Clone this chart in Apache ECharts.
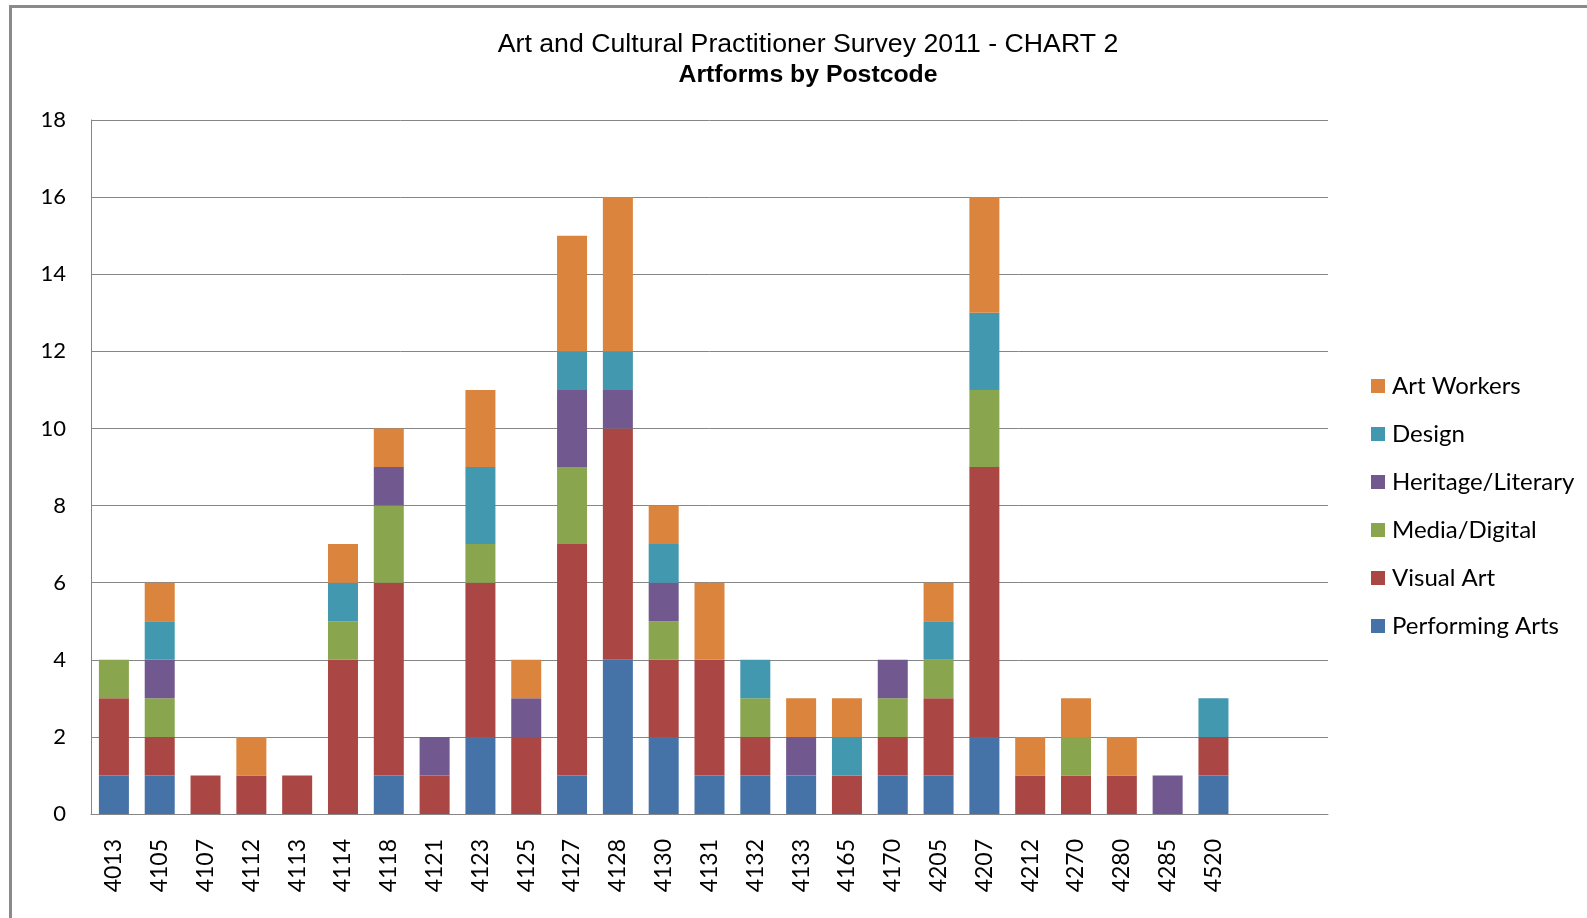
<!DOCTYPE html>
<html>
<head>
<meta charset="utf-8">
<title>Artforms by Postcode</title>
<script src="https://cdn.jsdelivr.net/npm/echarts@6/dist/echarts.min.js"></script>
<style>
    html, body {
        margin: 0;
        padding: 0;
        background: #fff;
    }
    #chart {
        width: 1587px;
        height: 918px;
    }
</style>
</head>
<body>
<div id="chart"></div>
<script>
// postcodes, two empty slots at the end as in the original sheet
const postcodes = ['4013', '4105', '4107', '4112', '4113', '4114', '4118', '4121', '4123', '4125',
    '4127', '4128', '4130', '4131', '4132', '4133', '4165', '4170', '4205', '4207',
    '4212', '4270', '4280', '4285', '4520', '', '']

const performingArts = [1, 1, 0, 0, 0, 0, 1, 0, 2, 0, 1, 4, 2, 1, 1, 1, 0, 1, 1, 2, 0, 0, 0, 0, 1, null, null]
const visualArt      = [2, 1, 1, 1, 1, 4, 5, 1, 4, 2, 6, 6, 2, 3, 1, 0, 1, 1, 2, 7, 1, 1, 1, 0, 1, null, null]
const mediaDigital   = [1, 1, 0, 0, 0, 1, 2, 0, 1, 0, 2, 0, 1, 0, 1, 0, 0, 1, 1, 2, 0, 1, 0, 0, 0, null, null]
const heritage       = [0, 1, 0, 0, 0, 0, 1, 1, 0, 1, 2, 1, 1, 0, 0, 1, 0, 1, 0, 0, 0, 0, 0, 1, 0, null, null]
const design         = [0, 1, 0, 0, 0, 1, 0, 0, 2, 0, 1, 1, 1, 0, 1, 0, 1, 0, 1, 2, 0, 0, 0, 0, 1, null, null]
const artWorkers     = [0, 1, 0, 1, 0, 1, 1, 0, 2, 1, 3, 4, 1, 2, 0, 1, 1, 0, 1, 3, 1, 1, 1, 0, 0, null, null]

const legendOrder = ['Art Workers', 'Design', 'Heritage/Literary', 'Media/Digital', 'Visual Art', 'Performing Arts']

let myChart = echarts.init(document.getElementById('chart'))

function bar(name, data, color) {
    return {
        name: name,
        type: 'bar',
        stack: 'Total',
        barWidth: 30,
        data: data.map(v => (v === 0 ? null : v)),
        itemStyle: { color: color }
    }
}

let option = {
    animation: false,
    backgroundColor: '#fff',
    textStyle: { fontFamily: 'Lato' },
    title: {
        text: 'Art and Cultural Practitioner Survey 2011 - CHART 2',
        subtext: 'Artforms by Postcode',
        left: 803,
        textAlign: 'center',
        top: 26,
        itemGap: 5,
        textStyle: {
            fontFamily: 'Liberation Sans',
            fontSize: 26.7,
            fontWeight: 'normal',
            color: '#000'
        },
        subtextStyle: {
            fontFamily: 'Liberation Sans',
            fontSize: 24.8,
            fontWeight: 'bold',
            color: '#000'
        }
    },
    legend: {
        orient: 'vertical',
        left: 1366,
        top: 368,
        itemWidth: 14,
        itemHeight: 14,
        itemGap: 22,
        icon: 'rect',
        data: legendOrder,
        textStyle: {
            fontFamily: 'Lato',
            fontSize: 24,
            lineHeight: 26,
            color: '#000',
            padding: [0, 0, 0, 2]
        }
    },
    grid: {
        left: 91,
        top: 120,
        right: 259,
        bottom: 104
    },
    xAxis: {
        type: 'category',
        data: postcodes,
        axisLine: { lineStyle: { color: '#868686', width: 1 } },
        axisTick: { show: false },
        axisLabel: {
            interval: 0,
            rotate: 90,
            margin: 25,
            fontFamily: 'Lato',
            fontSize: 23,
            color: '#000'
        }
    },
    yAxis: {
        type: 'value',
        min: 0,
        max: 18,
        interval: 2,
        axisLine: { show: true, lineStyle: { color: '#868686', width: 1 } },
        axisTick: { show: false },
        axisLabel: {
            margin: 25,
            fontFamily: 'Lato',
            fontSize: 22,
            color: '#000'
        },
        splitLine: { lineStyle: { color: '#868686', width: 1 } }
    },
    graphic: [
        {
            type: 'rect',
            shape: { x: 10.5, y: 6.5, width: 1700, height: 1000 },
            style: { fill: 'none', stroke: '#8a8a8a', lineWidth: 3 },
            silent: true
        }
    ],
    series: [
        bar('Performing Arts', performingArts, '#4572A7'),
        bar('Visual Art', visualArt, '#AA4643'),
        bar('Media/Digital', mediaDigital, '#89A54E'),
        bar('Heritage/Literary', heritage, '#71588F'),
        bar('Design', design, '#4198AF'),
        bar('Art Workers', artWorkers, '#DB843D')
    ]
};
myChart.setOption(option);
</script>
</body>
</html>
